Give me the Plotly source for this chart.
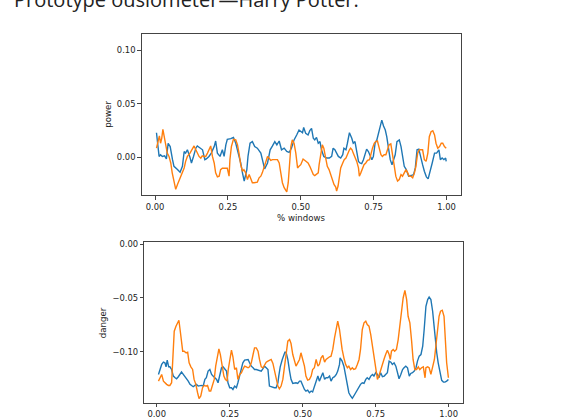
import plotly.graph_objects as go

# ---- power (top panel) ----
power_x_a = [0.005, 0.014, 0.019, 0.025, 0.033, 0.039, 0.045, 0.052, 0.060, 0.065, 0.077, 0.086,
             0.094, 0.100, 0.105, 0.111, 0.119, 0.125, 0.132, 0.140, 0.145, 0.155, 0.163, 0.171,
             0.176, 0.185, 0.193, 0.203, 0.208, 0.214, 0.223, 0.231, 0.237, 0.243, 0.248, 0.260,
             0.269, 0.277, 0.285, 0.294, 0.300, 0.306, 0.315, 0.319, 0.326, 0.334, 0.342, 0.351,
             0.363, 0.372, 0.376, 0.386, 0.395, 0.403, 0.411, 0.418, 0.426, 0.434, 0.443, 0.452,
             0.460, 0.468, 0.477, 0.486, 0.494, 0.506, 0.510, 0.517, 0.525, 0.531, 0.537, 0.543,
             0.548, 0.554, 0.560, 0.566, 0.571, 0.579, 0.589, 0.598, 0.606, 0.611, 0.617, 0.623,
             0.629, 0.637, 0.644, 0.648, 0.655, 0.660, 0.667, 0.675, 0.680, 0.686, 0.692, 0.698,
             0.703, 0.709, 0.715, 0.721, 0.726, 0.732, 0.738, 0.744, 0.749, 0.755, 0.761, 0.767,
             0.772, 0.778, 0.784, 0.790, 0.795, 0.801, 0.807, 0.813, 0.818, 0.824, 0.830, 0.838,
             0.844, 0.851, 0.855, 0.862, 0.870, 0.878, 0.887, 0.893, 0.899, 0.905, 0.910, 0.918,
             0.924, 0.931, 0.937, 0.943, 0.951, 0.959, 0.966, 0.974, 0.979, 0.985, 0.991, 0.997,
             0.999]
power_a = [0.0230, 0.0009, 0.0025, 0.0009, 0.0015, -0.0015, 0.0132, 0.0101, -0.0021, -0.0083,
           -0.0113, -0.0138, -0.0083, 0.0055, 0.0040, 0.0071, 0.0009, -0.0052, 0.0009, 0.0086,
           0.0107, 0.0086, 0.0071, -0.0021, -0.0015, 0.0009, 0.0040, 0.0101, 0.0153, 0.0040,
           0.0009, 0.0071, 0.0009, 0.0117, 0.0169, 0.0175, 0.0187, 0.0132, 0.0055, -0.0052,
           -0.0144, -0.0221, -0.0113, 0.0009, 0.0132, 0.0147, 0.0101, 0.0086, 0.0040, -0.0083,
           -0.0107, -0.0052, 0.0071, 0.0107, 0.0147, 0.0117, 0.0153, 0.0071, 0.0086, 0.0055,
           0.0046, 0.0086, 0.0163, 0.0209, 0.0255, 0.0230, 0.0279, 0.0224, 0.0209, 0.0249,
           0.0270, 0.0178, 0.0163, 0.0187, 0.0132, 0.0147, 0.0071, 0.0009, -0.0006, -0.0006,
           0.0009, 0.0086, 0.0071, 0.0040, 0.0009, -0.0006, 0.0025, 0.0086, 0.0071, 0.0132,
           0.0230, 0.0178, 0.0132, 0.0147, 0.0040, -0.0037, -0.0052, -0.0058, -0.0021, 0.0040,
           0.0077, 0.0055, 0.0009, -0.0021, 0.0009, 0.0132, 0.0163, 0.0224, 0.0285, 0.0347,
           0.0292, 0.0255, 0.0193, 0.0086, -0.0021, -0.0068, -0.0021, 0.0025, 0.0147, 0.0163,
           0.0101, -0.0021, -0.0083, -0.0114, -0.0175, -0.0169, -0.0160, -0.0098, 0.0071, 0.0077,
           0.0009, -0.0068, -0.0129, -0.0181, -0.0200, -0.0144, -0.0052, 0.0040, 0.0040, 0.0071,
           -0.0021, -0.0006, -0.0021, -0.0006, -0.0037]

power_x_b = [0.005, 0.010, 0.015, 0.019, 0.023, 0.027, 0.033, 0.038, 0.042, 0.048, 0.054, 0.059,
             0.065, 0.071, 0.077, 0.082, 0.088, 0.094, 0.100, 0.105, 0.111, 0.120, 0.128, 0.134,
             0.140, 0.145, 0.151, 0.157, 0.162, 0.168, 0.174, 0.180, 0.185, 0.191, 0.197, 0.203,
             0.208, 0.214, 0.220, 0.225, 0.231, 0.243, 0.248, 0.254, 0.257, 0.262, 0.269, 0.277,
             0.283, 0.288, 0.294, 0.300, 0.305, 0.311, 0.317, 0.323, 0.328, 0.334, 0.340, 0.346,
             0.351, 0.357, 0.363, 0.368, 0.374, 0.380, 0.386, 0.391, 0.397, 0.403, 0.408, 0.414,
             0.420, 0.426, 0.431, 0.437, 0.443, 0.449, 0.452, 0.457, 0.461, 0.466, 0.471, 0.477,
             0.483, 0.489, 0.494, 0.500, 0.508, 0.514, 0.520, 0.525, 0.531, 0.537, 0.543, 0.548,
             0.554, 0.560, 0.563, 0.568, 0.574, 0.579, 0.585, 0.591, 0.597, 0.602, 0.608, 0.614,
             0.620, 0.623, 0.628, 0.632, 0.637, 0.644, 0.649, 0.655, 0.661, 0.667, 0.671, 0.676,
             0.680, 0.686, 0.692, 0.698, 0.701, 0.706, 0.713, 0.717, 0.723, 0.729, 0.736, 0.740,
             0.746, 0.752, 0.757, 0.763, 0.769, 0.775, 0.780, 0.786, 0.792, 0.798, 0.803, 0.809,
             0.815, 0.821, 0.826, 0.832, 0.838, 0.844, 0.849, 0.855, 0.861, 0.867, 0.872, 0.878,
             0.884, 0.890, 0.895, 0.901, 0.907, 0.913, 0.918, 0.924, 0.930, 0.936, 0.941, 0.947,
             0.953, 0.959, 0.964, 0.970, 0.976, 0.982, 0.987, 0.993, 0.999]
power_b = [0.0086, 0.0163, 0.0200, 0.0132, 0.0178, 0.0261, 0.0163, 0.0086, 0.0040, 0.0009,
           -0.0052, -0.0144, -0.0221, -0.0298, -0.0252, -0.0221, -0.0175, -0.0144, -0.0098, -0.0037,
           0.0009, 0.0040, 0.0086, 0.0107, 0.0071, 0.0046, 0.0009, -0.0006, 0.0015, 0.0009,
           0.0009, 0.0040, 0.0071, 0.0107, 0.0009, -0.0052, -0.0144, -0.0181, -0.0175, -0.0114,
           -0.0101, -0.0101, -0.0101, -0.0175, -0.0021, 0.0101, 0.0169, 0.0163, 0.0117, 0.0040,
           -0.0068, -0.0129, -0.0114, -0.0144, -0.0206, -0.0160, -0.0190, -0.0236, -0.0236, -0.0230,
           -0.0230, -0.0190, -0.0175, -0.0144, -0.0098, -0.0037, 0.0009, -0.0006, -0.0028, -0.0021,
           -0.0021, -0.0015, -0.0021, -0.0052, -0.0144, -0.0236, -0.0282, -0.0304, -0.0322, -0.0236,
           -0.0052, 0.0101, 0.0163, 0.0132, 0.0040, -0.0098, -0.0083, -0.0068, -0.0015, -0.0028,
           -0.0037, -0.0052, -0.0083, -0.0114, -0.0160, -0.0169, -0.0160, -0.0144, -0.0068, 0.0040,
           0.0117, 0.0086, -0.0021, -0.0083, -0.0114, -0.0160, -0.0221, -0.0252, -0.0276, -0.0313,
           -0.0267, -0.0175, -0.0098, -0.0052, -0.0021, -0.0006, 0.0040, 0.0071, 0.0086, 0.0071,
           0.0040, 0.0009, -0.0037, -0.0098, -0.0175, -0.0144, -0.0098, -0.0068, -0.0052, -0.0028,
           -0.0021, 0.0025, 0.0086, 0.0132, 0.0147, 0.0153, 0.0086, 0.0025, 0.0009, 0.0025,
           0.0025, 0.0086, 0.0117, 0.0126, 0.0040, -0.0083, -0.0175, -0.0221, -0.0206, -0.0160,
           -0.0175, -0.0144, -0.0114, -0.0144, -0.0175, -0.0175, -0.0190, -0.0144, -0.0083, 0.0040,
           0.0071, 0.0071, 0.0071, -0.0021, -0.0037, 0.0040, 0.0193, 0.0239, 0.0249, 0.0209,
           0.0132, 0.0086, 0.0101, 0.0132, 0.0132, 0.0101, 0.0086]

# ---- danger (bottom panel) ----
danger_x_a = [0.006, 0.011, 0.017, 0.023, 0.028, 0.032, 0.036, 0.041, 0.045, 0.051, 0.057, 0.063,
              0.068, 0.074, 0.080, 0.085, 0.091, 0.097, 0.102, 0.108, 0.114, 0.119, 0.125, 0.131,
              0.136, 0.142, 0.148, 0.153, 0.159, 0.165, 0.170, 0.176, 0.182, 0.188, 0.193, 0.199,
              0.205, 0.210, 0.216, 0.222, 0.227, 0.233, 0.239, 0.244, 0.250, 0.256, 0.261, 0.267,
              0.273, 0.278, 0.284, 0.290, 0.295, 0.301, 0.307, 0.313, 0.318, 0.324, 0.330, 0.335,
              0.341, 0.347, 0.352, 0.358, 0.364, 0.369, 0.375, 0.381, 0.386, 0.392, 0.398, 0.403,
              0.409, 0.415, 0.418, 0.423, 0.430, 0.434, 0.439, 0.443, 0.449, 0.455, 0.460, 0.466,
              0.472, 0.477, 0.483, 0.489, 0.494, 0.500, 0.506, 0.511, 0.517, 0.523, 0.529, 0.534,
              0.540, 0.546, 0.552, 0.557, 0.563, 0.569, 0.575, 0.580, 0.586, 0.592, 0.597, 0.603,
              0.609, 0.615, 0.620, 0.626, 0.628, 0.635, 0.641, 0.647, 0.653, 0.658, 0.664, 0.670,
              0.675, 0.681, 0.687, 0.693, 0.698, 0.704, 0.710, 0.716, 0.721, 0.727, 0.733, 0.739,
              0.744, 0.750, 0.756, 0.761, 0.767, 0.773, 0.779, 0.784, 0.790, 0.796, 0.802, 0.807,
              0.813, 0.819, 0.825, 0.830, 0.836, 0.842, 0.847, 0.853, 0.859, 0.865, 0.870, 0.876,
              0.882, 0.888, 0.893, 0.899, 0.905, 0.911, 0.916, 0.922, 0.928, 0.933, 0.939, 0.945,
              0.950, 0.954, 0.959, 0.964, 0.970, 0.976, 0.982, 0.987, 0.993, 0.999]
danger_a = [-0.1210, -0.1164, -0.1117, -0.1096, -0.1102, -0.1139, -0.1077, -0.1139, -0.1139, -0.1164,
            -0.1225, -0.1241, -0.1250, -0.1231, -0.1210, -0.1188, -0.1210, -0.1231, -0.1250, -0.1272,
            -0.1302, -0.1312, -0.1324, -0.1312, -0.1302, -0.1318, -0.1312, -0.1312, -0.1318, -0.1256,
            -0.1241, -0.1179, -0.1164, -0.1210, -0.1225, -0.1241, -0.1256, -0.1287, -0.1225, -0.1148,
            -0.1139, -0.1157, -0.1179, -0.1287, -0.1333, -0.1333, -0.1349, -0.1318, -0.1333, -0.1287,
            -0.1210, -0.1164, -0.1102, -0.1077, -0.1071, -0.1071, -0.1102, -0.1133, -0.1148, -0.1164,
            -0.1164, -0.1170, -0.1179, -0.1179, -0.1157, -0.1133, -0.1148, -0.1164, -0.1318, -0.1324,
            -0.1324, -0.1333, -0.1333, -0.1287, -0.1225, -0.1139, -0.1071, -0.1040, -0.1003, -0.1003,
            -0.1071, -0.1179, -0.1256, -0.1293, -0.1287, -0.1287, -0.1293, -0.1272, -0.1272, -0.1318,
            -0.1349, -0.1364, -0.1355, -0.1380, -0.1364, -0.1373, -0.1318, -0.1272, -0.1225, -0.1272,
            -0.1225, -0.1194, -0.1256, -0.1241, -0.1241, -0.1225, -0.1272, -0.1241, -0.1231, -0.1210,
            -0.1179, -0.1117, -0.1056, -0.1086, -0.1133, -0.1225, -0.1318, -0.1380, -0.1410, -0.1432,
            -0.1410, -0.1380, -0.1349, -0.1318, -0.1302, -0.1287, -0.1293, -0.1256, -0.1241, -0.1256,
            -0.1225, -0.1210, -0.1225, -0.1194, -0.1210, -0.1241, -0.1194, -0.1231, -0.1225, -0.1210,
            -0.1194, -0.1086, -0.1096, -0.1117, -0.1102, -0.1133, -0.1194, -0.1250, -0.1210, -0.1164,
            -0.1148, -0.1133, -0.1148, -0.1225, -0.1201, -0.1194, -0.1179, -0.1148, -0.1086, -0.1040,
            -0.1025, -0.0948, -0.0793, -0.0577, -0.0515, -0.0491, -0.0515, -0.0623, -0.0762, -0.0886,
            -0.1009, -0.1102, -0.1194, -0.1265, -0.1281, -0.1281, -0.1272, -0.1256]

danger_x_b = [0.006, 0.011, 0.017, 0.023, 0.028, 0.034, 0.040, 0.045, 0.051, 0.057, 0.060, 0.066,
              0.072, 0.076, 0.080, 0.085, 0.089, 0.094, 0.100, 0.106, 0.111, 0.117, 0.123, 0.128,
              0.134, 0.140, 0.145, 0.151, 0.157, 0.163, 0.168, 0.174, 0.180, 0.185, 0.191, 0.197,
              0.202, 0.208, 0.213, 0.218, 0.224, 0.230, 0.235, 0.241, 0.245, 0.250, 0.256, 0.261,
              0.267, 0.273, 0.278, 0.284, 0.290, 0.295, 0.301, 0.307, 0.313, 0.318, 0.324, 0.330,
              0.335, 0.341, 0.347, 0.352, 0.358, 0.364, 0.369, 0.375, 0.381, 0.386, 0.392, 0.398,
              0.403, 0.409, 0.415, 0.420, 0.426, 0.432, 0.438, 0.443, 0.449, 0.455, 0.460, 0.466,
              0.472, 0.477, 0.483, 0.489, 0.494, 0.500, 0.506, 0.511, 0.517, 0.523, 0.529, 0.534,
              0.540, 0.546, 0.552, 0.557, 0.563, 0.569, 0.575, 0.580, 0.586, 0.592, 0.597, 0.603,
              0.609, 0.615, 0.620, 0.626, 0.630, 0.635, 0.641, 0.647, 0.653, 0.658, 0.664, 0.670,
              0.675, 0.681, 0.687, 0.693, 0.698, 0.704, 0.710, 0.716, 0.721, 0.727, 0.733, 0.739,
              0.744, 0.750, 0.756, 0.761, 0.767, 0.773, 0.779, 0.784, 0.790, 0.796, 0.800, 0.804,
              0.810, 0.815, 0.821, 0.827, 0.833, 0.838, 0.844, 0.850, 0.856, 0.861, 0.867, 0.873,
              0.878, 0.884, 0.890, 0.896, 0.901, 0.907, 0.913, 0.919, 0.922, 0.928, 0.933, 0.939,
              0.945, 0.951, 0.956, 0.961, 0.967, 0.972, 0.978, 0.984, 0.988, 0.993, 0.999]
danger_b = [-0.1272, -0.1241, -0.1210, -0.1272, -0.1287, -0.1302, -0.1312, -0.1312, -0.1287, -0.0948,
            -0.0809, -0.0762, -0.0725, -0.0707, -0.0793, -0.0901, -0.0994, -0.0994, -0.1009, -0.1003,
            -0.1102, -0.1139, -0.1164, -0.1256, -0.1302, -0.1380, -0.1435, -0.1410, -0.1333, -0.1312,
            -0.1318, -0.1312, -0.1364, -0.1364, -0.1318, -0.1256, -0.1133, -0.1040, -0.0972, -0.1025,
            -0.1148, -0.1225, -0.1256, -0.1272, -0.1164, -0.1071, -0.0985, -0.1046, -0.1164, -0.1148,
            -0.1256, -0.1210, -0.1194, -0.1164, -0.1133, -0.1139, -0.1148, -0.1139, -0.1102, -0.1025,
            -0.0963, -0.0963, -0.0994, -0.1071, -0.1139, -0.1148, -0.1117, -0.1096, -0.1086, -0.1077,
            -0.1071, -0.1108, -0.1170, -0.1225, -0.1318, -0.1343, -0.1318, -0.1256, -0.1133, -0.1009,
            -0.0901, -0.0886, -0.0923, -0.1025, -0.1102, -0.1133, -0.1102, -0.1071, -0.1009, -0.1071,
            -0.1133, -0.1225, -0.1262, -0.1256, -0.1225, -0.1164, -0.1148, -0.1071, -0.1133, -0.1117,
            -0.1056, -0.1034, -0.1096, -0.1071, -0.1056, -0.1046, -0.1040, -0.0978, -0.0870, -0.0793,
            -0.0716, -0.0793, -0.0901, -0.0978, -0.1056, -0.1117, -0.1148, -0.1133, -0.1164, -0.1148,
            -0.1164, -0.1157, -0.1117, -0.1071, -0.0978, -0.0793, -0.0731, -0.0716, -0.0747, -0.0762,
            -0.0840, -0.0948, -0.1071, -0.1179, -0.1256, -0.1225, -0.1164, -0.1117, -0.1065, -0.1025,
            -0.0985, -0.1025, -0.1071, -0.0994, -0.0978, -0.0994, -0.0978, -0.0886, -0.0731, -0.0623,
            -0.0500, -0.0429, -0.0515, -0.0670, -0.0731, -0.0901, -0.1071, -0.1164, -0.1164, -0.1139,
            -0.1164, -0.1148, -0.1139, -0.1241, -0.1148, -0.1139, -0.1148, -0.1210, -0.1148, -0.1071,
            -0.0948, -0.0793, -0.0670, -0.0623, -0.0614, -0.0670, -0.0886, -0.1102, -0.1241]

x_ticks = [0.0, 0.25, 0.5, 0.75, 1.0]
power_ticks = [0.0, 0.05, 0.10]
danger_ticks = [0.0, -0.05, -0.10]

TITLE = "Prototype ousiometer\u2014Harry Potter."
BLUE = "#1f77b4"
ORANGE = "#ff7f0e"
W, H = 562, 419

fig = go.Figure()
fig.add_trace(go.Scatter(x=power_x_a, y=power_a, mode="lines",
                         line=dict(color=BLUE, width=1.4), xaxis="x", yaxis="y"))
fig.add_trace(go.Scatter(x=power_x_b, y=power_b, mode="lines",
                         line=dict(color=ORANGE, width=1.4), xaxis="x", yaxis="y"))
fig.add_trace(go.Scatter(x=danger_x_a, y=danger_a, mode="lines",
                         line=dict(color=BLUE, width=1.4), xaxis="x2", yaxis="y2"))
fig.add_trace(go.Scatter(x=danger_x_b, y=danger_b, mode="lines",
                         line=dict(color=ORANGE, width=1.4), xaxis="x2", yaxis="y2"))

tick_font = dict(family="DejaVu Sans", size=8.4, color="#222")
axis_style = dict(showline=True, mirror=True, linecolor="#444", linewidth=1,
                  ticks="outside", ticklen=3.5, tickwidth=1, tickcolor="#444",
                  showgrid=False, zeroline=False, tickfont=tick_font,
                  tickformat=".2f", fixedrange=True)


def px_x(p):
    return p / W


def px_y(p):
    return (H - p) / H


fig.update_layout(
    width=W, height=H, autosize=False,
    margin=dict(l=0, r=0, t=0, b=0),
    paper_bgcolor="white", plot_bgcolor="white",
    showlegend=False,
    xaxis=dict(domain=[px_x(141.7), px_x(460.7)], range=[-0.0457, 1.0487],
               tickvals=x_ticks, anchor="y", **axis_style),
    yaxis=dict(domain=[px_y(194.5), px_y(31.7)], range=[-0.0352, 0.1147],
               tickvals=power_ticks, anchor="x", **axis_style),
    xaxis2=dict(domain=[px_x(144.3), px_x(463.3)], range=[-0.0425, 1.05],
                tickvals=x_ticks, anchor="y2", **axis_style),
    yaxis2=dict(domain=[px_y(404.7), px_y(242.3)], range=[-0.1474, 0.0016],
                tickvals=danger_ticks, anchor="x2", **axis_style),
)

label_font = dict(family="DejaVu Sans", size=8.6, color="#222")
fig.add_annotation(text=TITLE, xref="paper", yref="paper", x=px_x(12), y=px_y(12),
                   xanchor="left", yanchor="bottom", showarrow=False,
                   font=dict(family="Open Sans", size=20, color="#222"))
fig.add_annotation(text="power", xref="paper", yref="paper", x=px_x(108), y=px_y(113),
                   xanchor="center", yanchor="middle", textangle=-90, showarrow=False,
                   font=label_font)
fig.add_annotation(text="% windows", xref="paper", yref="paper", x=px_x(301), y=px_y(218),
                   xanchor="center", yanchor="middle", showarrow=False, font=label_font)
fig.add_annotation(text="danger", xref="paper", yref="paper", x=px_x(103), y=px_y(324),
                   xanchor="center", yanchor="middle", textangle=-90, showarrow=False,
                   font=label_font)

fig.write_html("out.html")
